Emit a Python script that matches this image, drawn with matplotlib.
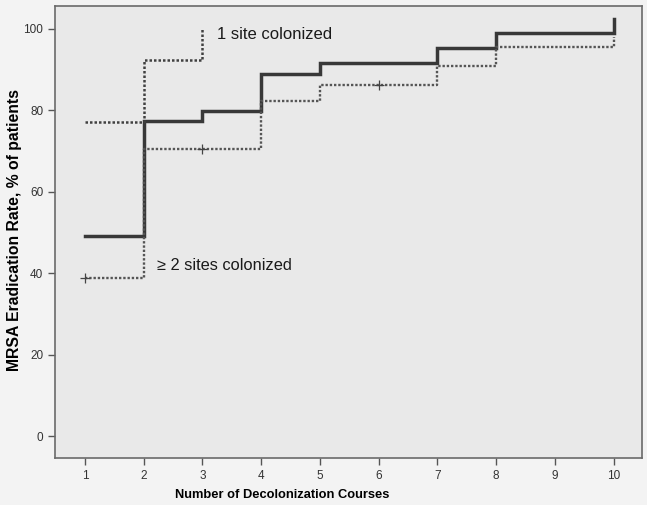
import matplotlib
matplotlib.use("Agg")
import matplotlib.pyplot as plt

plt.rcParams['font.family'] = ['Liberation Sans', 'DejaVu Sans']

# courses and eradication rates
courses = [1, 2, 3, 4, 5, 6, 7, 8, 9, 10]
all_rate = [49.1, 77.4, 79.9, 88.9, 91.7, 91.7, 95.2, 99.0, 99.0, 102.5]

one_site_courses = [1, 2, 3]
one_site_rate = [77.1, 92.3, 100.0]

multi_rate = [38.7, 70.5, 70.5, 82.4, 86.1, 86.1, 90.8, 95.6, 95.6, 98.1]

# censored observations (+ marks) on the >= 2 sites curve
censor_x = [1, 3, 6]
censor_y = [38.7, 70.5, 86.1]

yticks = [0, 20, 40, 60, 80, 100]

fig = plt.figure(figsize=(6.47, 5.05), dpi=100)
fig.patch.set_facecolor('#f3f3f3')
ax = fig.add_axes([0.085, 0.093, 0.907, 0.895])
ax.set_facecolor('#e9e9e9')

ax.step(courses, all_rate, where='post', color='#383838', lw=2.5, solid_joinstyle='miter')
ax.step(one_site_courses, one_site_rate, where='post', color='#404040', lw=1.8,
        linestyle=(0, (1.0, 0.8)))
ax.step(courses, multi_rate, where='post', color='#555555', lw=1.7,
        linestyle=(0, (1.0, 0.8)))
ax.plot(censor_x, censor_y, linestyle='none', marker='+', markersize=7,
        markeredgewidth=0.9, color='#444444')

ax.text(3.24, 98.5, '1 site colonized', fontsize=12, va='center', ha='left', color='#1a1a1a')
ax.text(2.22, 42, '≥ 2 sites colonized', fontsize=11.8, va='center', ha='left', color='#1a1a1a')

ax.set_xlim(0.49, 10.48)
ax.set_ylim(-5.4, 105.6)
ax.set_xticks(courses)
ax.set_yticks(yticks)
ax.tick_params(direction='out', length=5, width=1, color='#555555',
               labelsize=8.5, labelcolor='#333333')

for s in ax.spines.values():
    s.set_color('#6a6a6a')
    s.set_linewidth(1.2)

ax.set_xlabel('Number of Decolonization Courses', fontsize=9.3, fontweight='bold')
ax.xaxis.set_label_coords(0.388, -0.068)
ax.set_ylabel('MRSA Eradication Rate, % of patients', fontsize=11.3, fontweight='bold')
ax.yaxis.set_label_coords(-0.056, 0.505)

fig.savefig('out.png', dpi=100, facecolor=fig.get_facecolor())
